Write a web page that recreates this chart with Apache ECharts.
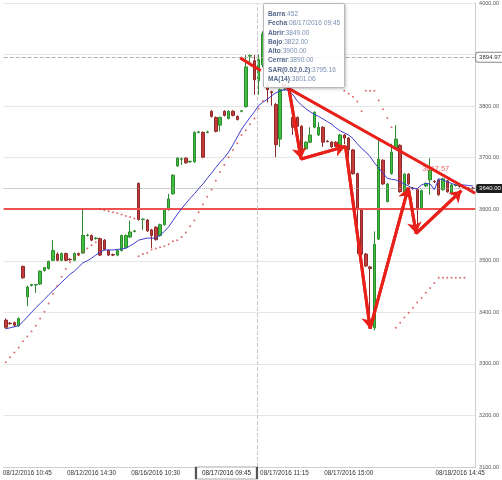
<!DOCTYPE html>
<html><head><meta charset="utf-8">
<script src="https://cdn.jsdelivr.net/npm/echarts@6/dist/echarts.min.js"></script>
<style>html,body{margin:0;padding:0;background:#fff}#c{width:502px;height:480px}</style>
</head><body><div id="c"></div>
<script>
// ---- data (15-minute bars) ----
const firstBar = 393;
const opens = [3385,3379,3380,3374,3489,3430,3452,3453,3455,3481,
  3485,3501,3513,3501,3514,3503,3501,3514,3515,3549,
  3549,3543,3543,3540,3520,3512,3511,3520,3526,3546,
  3557,3650,3580,3579,3560,3565,3549,3570,3599,3630,
  3684,3697,3699,3692,3692,3749,3749,3749,3790,3778,
  3763,3790,3776,3790,3780,3790,3799,3897,3888,3849,
  3880,3840,3828,3803,3736,3832,3838,3778,3778,3761,
  3717,3730,3759,3744,3759,3732,3730,3730,3724,3744,
  3738,3715,3669,3599,3513,3488,3370,3542,3695,3615,
  3669,3717,3724,3632,3668,3641,3638,3601,3645,3657,
  3654,3657,3638,3655,3630,3646,3645,3643,3641,3641];
const highs = [3388,3381,3382,3390,3491,3452,3455,3455,3481,3488,
  3500,3540,3516,3516,3516,3505,3516,3516,3601,3552,
  3551,3546,3545,3542,3522,3514,3522,3551,3551,3578,
  3560,3652,3582,3581,3562,3567,3572,3601,3630,3668,
  3701,3700,3701,3694,3751,3752,3751,3752,3792,3780,
  3780,3792,3792,3792,3782,3792,3899,3900,3899,3900,
  3945,3846,3830,3806,3834,3834,3840,3794,3780,3763,
  3732,3759,3790,3769,3761,3734,3732,3732,3746,3746,
  3740,3717,3671,3601,3515,3490,3557,3736,3697,3651,
  3727,3763,3726,3670,3670,3643,3640,3638,3652,3699,
  3656,3659,3661,3657,3649,3648,3647,3645,3643,3643];
const lows = [3368,3376,3372,3372,3465,3412,3450,3438,3453,3479,
  3483,3499,3499,3499,3499,3500,3499,3509,3513,3547,
  3538,3541,3509,3520,3509,3509,3509,3518,3524,3544,
  3555,3578,3560,3556,3525,3539,3547,3568,3597,3628,
  3682,3686,3688,3690,3690,3747,3699,3747,3778,3749,
  3751,3780,3774,3780,3772,3788,3797,3880,3822,3822,
  3875,3807,3801,3701,3721,3830,3830,3744,3759,3701,
  3715,3728,3757,3742,3721,3730,3719,3720,3722,3726,
  3701,3667,3513,3511,3488,3368,3365,3540,3647,3613,
  3667,3715,3632,3630,3647,3638,3557,3599,3643,3628,
  3651,3626,3636,3632,3628,3644,3642,3639,3638,3638];
const closes = [3371,3378,3375,3388,3467,3449,3454,3454,3480,3487,
  3499,3520,3501,3514,3501,3502,3514,3511,3549,3550,
  3540,3544,3511,3522,3511,3511,3520,3549,3549,3556,
  3558,3580,3581,3558,3549,3541,3570,3599,3620,3666,
  3699,3698,3690,3693,3749,3750,3701,3750,3780,3751,
  3778,3782,3790,3782,3774,3791,3876,3898,3851,3890,
  3940,3832,3826,3725,3832,3833,3832,3759,3761,3717,
  3730,3744,3788,3759,3730,3731,3721,3722,3744,3738,
  3715,3669,3600,3513,3490,3485,3532,3697,3649,3649,
  3711,3736,3634,3668,3649,3640,3601,3636,3650,3676,
  3653,3628,3659,3634,3647,3647,3644,3641,3640,3640];
const ma14 = [3368,3370,3372,3374,3382,3391,3400,3409,3417,3425,
  3434,3442,3450,3458,3466,3474,3480,3488,3496,3500,
  3505,3511,3517,3521,3521,3521,3522,3523,3524,3529,
  3534,3540,3542,3544,3544,3544,3550,3557,3566,3578,
  3590,3601,3611,3621,3630,3640,3649,3660,3670,3681,
  3691,3700,3711,3725,3740,3755,3767,3778,3789,3801.06,
  3808,3813,3820,3826,3829,3832,3830,3822,3810,3802,
  3795,3789,3784,3780,3775,3770,3765,3758,3752,3748,
  3744,3737,3727,3718,3711,3702,3690,3680,3670,3660,
  3658,3657,3653,3649,3645,3640,3640,3647,3650,3649,
  3638,3659,3657,3653,3650,3647,3647,3647,3646,3645];
const sar = [3303,3313,3322,3332,3344,3353,3363,3374,3388,3401,
  3417,3436,3451,3469,3484,3497,3507,3512,3518,3524,
  3530,3536,3600,3598,3596,3594,3592,3590,3587,3585,
  3582,3509,3513,3515,3522,3524,3526,3528,3532,3538,
  3540,3546,3555,3567,3578,3594,3609,3624,3638,3655,
  3672,3686,3701,3715,3728,3744,3753,3765,3776,3795.16,
  3810,null,null,null,null,null,null,null,null,null,
  null,null,null,null,null,null,null,null,null,3830,
  3824,3818,3809,3790,3830,3830,3830,3811,3794,3777,
  3759,3370,3380,3390,3399,3409,3419,3428,3438,3447,
  3457,3467,3467,3467,3467,3467,3467,3467,null,null];

const tickBars = [398, 413, 428, 458, 473, 499];
const tickTexts = ['08/12/2016 10:45','08/12/2016 14:30','08/16/2016 10:30','08/17/2016 11:15','08/17/2016 15:00','08/18/2016 14:45'];
const cursorBar = 452;
const cursorText = '08/17/2016 09:45';
const cursorX = 58.6;          // crosshair position (bar index units)
const supportLevel = 3601;
const lastPrice = 3640;
const markLevel = 3894.97;
const yMin = 3100, yMax = 4000, yStep = 100;

// hand-drawn lines, in [bar index, price]
const trendTop = [[54.7, 3893.6], [59.5, 3868.6]];
const trendMain = [[64.4, 3841.7], [109.5, 3631]];
const arrowPath = [[66.0,3836],[68.9,3697.5],[79.25,3722],[85.0,3368.6],[93.9,3641.7],[95.75,3553],[106.3,3636]];
const trendNote = {at: [100.3, 3678], text: '3667.57'};

// ---- build ----
const n = opens.length;
const categories = opens.map((_, i) => String(firstBar + i));
const candles = opens.map((o, i) => [o, closes[i], lows[i], highs[i]]);
const RED = '#e8201a';
const FONT = 'Liberation Sans';

const arrowSegments = [];
for (let k = 0; k + 1 < arrowPath.length; k++) {
  arrowSegments.push([{coord: arrowPath[k]}, {coord: arrowPath[k + 1]}]);
}

const chart = echarts.init(document.getElementById('c'), null, {renderer: 'canvas'});
chart.setOption({
  animation: false,
  backgroundColor: '#fff',
  grid: {left: 0, right: 22, top: -1, bottom: 13, containLabel: false},
  tooltip: {
    trigger: 'item', triggerOn: 'none', alwaysShowContent: true, transitionDuration: 0,
    position: [263, 3],
    backgroundColor: 'rgba(255,255,255,0.88)', borderColor: '#b8b8b8', borderWidth: 1,
    padding: [5, 4, 4, 4],
    textStyle: {fontSize: 6.6, color: '#7b90b2', fontFamily: FONT},
    extraCssText: 'box-shadow:1px 1px 3px rgba(0,0,0,0.25);border-radius:2px;line-height:9.3px;white-space:nowrap;',
    formatter: function (p) {
      const i = p.dataIndex;
      const f = v => (v == null ? '' : v.toFixed(2));
      const row = (k, v) => '<b style="color:#56698c">' + k + '</b>:' + v;
      return [row('Barra', firstBar + i),
        row('Fecha', (firstBar + i) === cursorBar ? cursorText : ''),
        row('Abrir', f(opens[i])), row('Bajo', f(lows[i])), row('Alto', f(highs[i])),
        row('Cerrar', f(closes[i])), row('SAR(0.02,0.2)', f(sar[i])), row('MA(14)', f(ma14[i]))].join('<br/>');
    }
  },
  xAxis: [{
    type: 'category', data: categories, boundaryGap: true,
    axisLine: {show: true, onZero: false, lineStyle: {color: '#cfcfcf'}},
    axisTick: {show: false},
    splitLine: {show: false},
    axisLabel: {
      interval: (idx, val) => tickBars.indexOf(+val) >= 0,
      formatter: (val) => { const k = tickBars.indexOf(+val); return k >= 0 ? tickTexts[k] : ''; },
      fontSize: 6.3, color: '#333', fontFamily: FONT, margin: 3
    }
  }, {
    type: 'value', min: -0.5, max: n - 0.5, show: false,
    axisLine: {show: false}, splitLine: {show: false}
  }],
  yAxis: {
    type: 'value', position: 'right', min: yMin, max: yMax, interval: yStep, scale: true,
    axisLine: {show: true, onZero: false, lineStyle: {color: '#cfcfcf'}},
    axisTick: {show: false},
    splitLine: {show: true, lineStyle: {color: '#e6e6e6', width: 1}},
    axisLabel: {formatter: v => v.toFixed(2), fontSize: 5.5, color: '#555', fontFamily: FONT, margin: 4}
  },
  series: [
    {
      name: 'price', type: 'candlestick', data: candles, barWidth: 3, z: 4,
      itemStyle: {color: '#3fbf3f', color0: '#c43c3c', borderColor: '#2f8a2f', borderColor0: '#8e2a2a', borderWidth: 1},
      markLine: {
        symbol: ['none', 'none'], silent: true, animation: false,
        data: [
          {yAxis: supportLevel, lineStyle: {color: '#ef5050', width: 2, type: 'solid'}, label: {show: false}},
          {yAxis: lastPrice, lineStyle: {color: '#9a9a9a', width: 1, type: 'dotted'},
            label: {show: true, position: 'end', formatter: lastPrice.toFixed(2), backgroundColor: '#1e1e1e', color: '#fff',
              padding: [2, 3, 1, 3], fontSize: 6, fontFamily: FONT, borderRadius: 2, distance: 1}},
          {yAxis: markLevel, lineStyle: {color: '#b0b0b0', width: 1, type: 'dashed'},
            label: {show: true, position: 'end', formatter: markLevel.toFixed(2), backgroundColor: '#fff', color: '#333',
              borderColor: '#888', borderWidth: 1, padding: [2, 3, 1, 3], fontSize: 6, fontFamily: FONT, borderRadius: 2, distance: 1}}
        ]
      }
    },
    {
      name: 'MA(14)', type: 'line', data: ma14, symbol: 'none', z: 5, silent: true, tooltip: {show: false},
      lineStyle: {color: '#3d3dcf', width: 1}
    },
    {
      name: 'SAR', type: 'scatter', data: sar, symbol: 'circle', symbolSize: 2, z: 5, silent: true, tooltip: {show: false},
      itemStyle: {color: '#d44a4a'}
    },
    {
      name: 'cursor', type: 'line', xAxisIndex: 1, data: [], z: 3, silent: true, tooltip: {show: false}, clip: false,
      markLine: {symbol: ['none', 'none'], silent: true, animation: false, label: {show: false},
        lineStyle: {color: '#c8c8c8', type: 'dashed', width: 1}, data: [{xAxis: cursorX}]},
      markPoint: {
        silent: true, animation: false,
        data: [{coord: [cursorX, yMin], value: cursorText}],
        symbol: 'rect', symbolSize: [61, 12], symbolOffset: [-30.5, 6],
        itemStyle: {color: '#fff', borderColor: '#555', borderWidth: 1},
        label: {show: true, position: 'inside', formatter: cursorText, color: '#222', fontSize: 6.3, fontFamily: FONT}
      }
    },
    {
      name: 'trendTop', type: 'line', xAxisIndex: 1, data: trendTop, symbol: 'none', z: 10, silent: true, tooltip: {show: false},
      lineStyle: {color: RED, width: 3}
    },
    {
      name: 'trendMain', type: 'line', xAxisIndex: 1, data: trendMain, symbol: 'none', z: 10, silent: true, tooltip: {show: false},
      lineStyle: {color: RED, width: 3},
      markPoint: {
        silent: true, animation: false,
        data: [{coord: trendNote.at, value: trendNote.text}],
        symbol: 'rect', symbolSize: [30, 8], itemStyle: {color: 'rgba(0,0,0,0)'},
        label: {show: true, position: 'inside', formatter: trendNote.text, color: '#e46a6a', fontSize: 7.5, fontFamily: FONT}
      }
    },
    {
      name: 'arrows', type: 'line', xAxisIndex: 1, data: arrowPath, symbol: 'none', z: 11, silent: true, tooltip: {show: false},
      lineStyle: {color: RED, width: 3},
      markLine: {
        symbol: ['none', 'arrow'], symbolSize: 11, silent: true, animation: false, label: {show: false},
        lineStyle: {color: RED, width: 3, type: 'solid'},
        data: arrowSegments
      }
    }
  ]
});
chart.dispatchAction({type: 'showTip', seriesIndex: 0, dataIndex: cursorBar - firstBar});
</script>
</body></html>
